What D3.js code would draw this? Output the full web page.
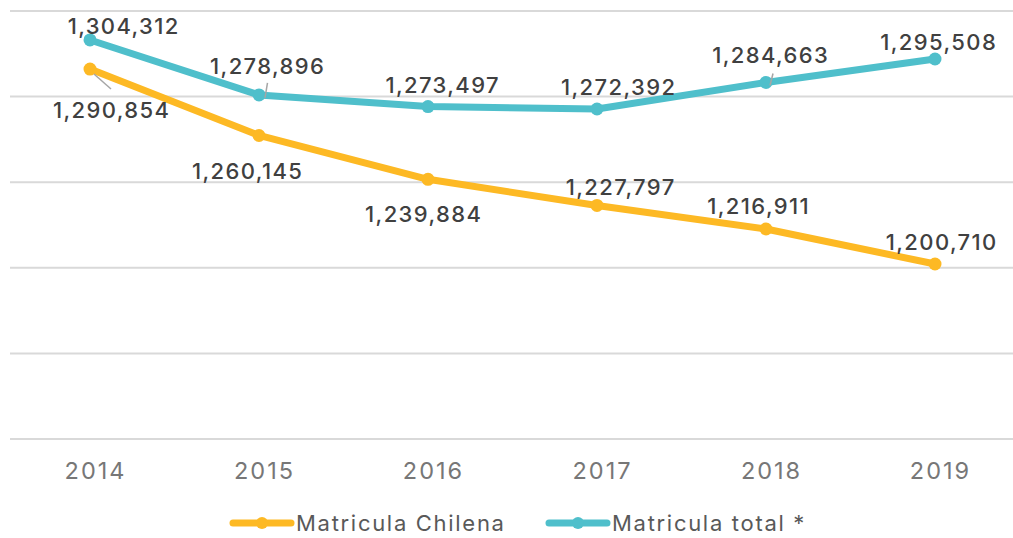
<!DOCTYPE html>
<meta charset="utf-8">
<style>
  body { margin: 0; background: #fff; }
  text { font-family: Inter, "DejaVu Sans", sans-serif; }
</style>
<script src="https://d3js.org/d3.v7.min.js"></script>
<div id="chart"></div>
<script>
// data
var years = ["2014", "2015", "2016", "2017", "2018", "2019"];
var chilena = [1290854, 1260145, 1239884, 1227797, 1216911, 1200710];
var total = [1304312, 1278896, 1273497, 1272392, 1284663, 1295508];
var seriesNames = ["Matricula Chilena", "Matricula total *"];

// label placement (offset from the point), plus optional leader line
var chilenaLabels = [
  {dx: 21, dy: 49, leader: [4, 5, 21, 20]},
  {dx: -12, dy: 44},
  {dx: -5, dy: 43},
  {dx: 23, dy: -10},
  {dx: -8, dy: -15},
  {dx: 6, dy: -14}
];
var totalLabels = [
  {dx: 33, dy: -6},
  {dx: 8, dy: -21, leader: [6, 3, 8.5, -12]},
  {dx: 14, dy: -14},
  {dx: 21, dy: -14},
  {dx: 4, dy: -19, leader: [4, 3, 7, -9]},
  {dx: 3, dy: -9}
];

var width = 1013, height = 538;
var colors = ["#fdb924", "#4fbfcb"];

var svg = d3.select("#chart").append("svg")
  .attr("width", width)
  .attr("height", height);

var x = d3.scalePoint().domain(years).range([90, 935]);
var yLo = 1119800, yHi = 1317700;
var y = d3.scaleLinear().domain([yLo, yHi]).range([439, 11]);

// gridlines (6 evenly spaced lines across the value axis)
var grid = d3.range(6).map(function(i) { return yLo + i * (yHi - yLo) / 5; });
svg.selectAll(".grid")
  .data(grid).enter()
  .append("line")
  .attr("x1", 10).attr("x2", width)
  .attr("y1", function(d) { return y(d); })
  .attr("y2", function(d) { return y(d); })
  .style("stroke", "#d9d9d9")
  .style("stroke-width", 2);

// x axis labels
var xAxis = svg.append("g")
  .attr("transform", "translate(5,479)")
  .call(d3.axisBottom(x).tickSize(0).tickPadding(0));
xAxis.select(".domain").remove();
xAxis.selectAll("text")
  .attr("y", 0).attr("dy", 0)
  .style("font-size", "23.5px")
  .style("letter-spacing", "2px")
  .style("fill", "#777777")
  .style("font-family", "Inter, 'DejaVu Sans', sans-serif");

var series = [
  {values: chilena, labels: chilenaLabels, color: colors[0]},
  {values: total, labels: totalLabels, color: colors[1]}
];

var line = d3.line()
  .x(function(d, i) { return x(years[i]); })
  .y(function(d) { return y(d); });

series.forEach(function(s) {
  var g = svg.append("g");
  g.append("path")
    .attr("d", line(s.values))
    .style("fill", "none")
    .style("stroke", s.color)
    .style("stroke-width", 7)
    .style("stroke-linejoin", "round")
    .style("stroke-linecap", "round");
  g.selectAll("circle")
    .data(s.values).enter()
    .append("circle")
    .attr("cx", function(d, i) { return x(years[i]); })
    .attr("cy", function(d) { return y(d); })
    .attr("r", 6.5)
    .style("fill", s.color);
});

// data labels and leader lines
series.forEach(function(s) {
  s.values.forEach(function(v, i) {
    var px = x(years[i]), py = y(v), lb = s.labels[i];
    if (lb.leader) {
      svg.append("line")
        .attr("x1", px + lb.leader[0]).attr("y1", py + lb.leader[1])
        .attr("x2", px + lb.leader[2]).attr("y2", py + lb.leader[3])
        .style("stroke", "#a6a6a6")
        .style("stroke-width", 1.5);
    }
    svg.append("text")
      .attr("x", px + lb.dx + 0.7)
      .attr("y", py + lb.dy)
      .attr("text-anchor", "middle")
      .style("font-size", "22px")
      .style("font-weight", 500)
      .style("letter-spacing", "1.4px")
      .style("fill", "#404040")
      .text(d3.format(",")(v));
  });
});

// legend
var legendX = [233, 549];
seriesNames.forEach(function(name, i) {
  var lg = svg.append("g").attr("transform", "translate(" + legendX[i] + ",523)");
  lg.append("line")
    .attr("x1", 0).attr("x2", 58)
    .style("stroke", colors[i])
    .style("stroke-width", 7)
    .style("stroke-linecap", "round");
  lg.append("circle")
    .attr("cx", 29).attr("r", 6)
    .style("fill", colors[i]);
  lg.append("text")
    .attr("x", 63).attr("y", 8)
    .style("font-size", "22px")
    .style("letter-spacing", "1.7px")
    .style("fill", "#595959")
    .text(name);
});
</script>
